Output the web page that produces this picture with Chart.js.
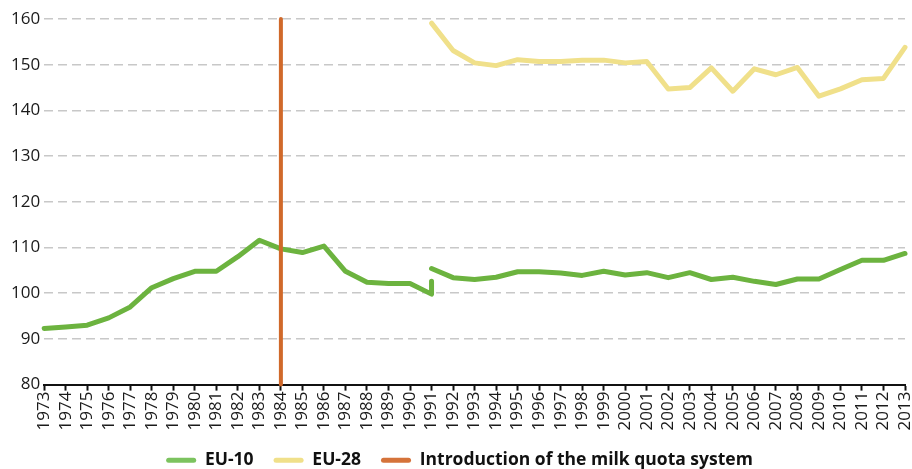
<!DOCTYPE html>
<html>
<head>
<meta charset="utf-8">
<script src="https://cdn.jsdelivr.net/npm/chart.js@4"></script>
<style>
  html, body { margin: 0; padding: 0; background: #fff; }
  #wrap { width: 912px; height: 469px; }
</style>
</head>
<body>
<div id="wrap"><canvas id="milk"></canvas></div>
<script>
// years on the x axis
const years = [];
for (let y = 1973; y <= 2013; y++) years.push(y);

// EU-10, first stretch 1973-1991 (ends with the small jump at 1991)
const eu10OldYears = [1973, 1974, 1975, 1976, 1977, 1978, 1979, 1980, 1981, 1982, 1983, 1984, 1985, 1986, 1987, 1988, 1989, 1990, 1991, 1991]
const eu10OldValues = [92.3, 92.6, 93.0, 94.6, 97.0, 101.2, 103.2, 104.8, 104.8, 108.0, 111.6, 109.7, 108.9, 110.3, 104.8, 102.4, 102.1, 102.1, 99.8, 102.6]

// EU-10, second stretch 1991-2013
const eu10NewYears = [1991, 1992, 1993, 1994, 1995, 1996, 1997, 1998, 1999, 2000, 2001, 2002, 2003, 2004, 2005, 2006, 2007, 2008, 2009, 2010, 2011, 2012, 2013]
const eu10NewValues = [105.4, 103.4, 103.0, 103.5, 104.7, 104.7, 104.4, 103.9, 104.8, 104.0, 104.5, 103.4, 104.5, 103.0, 103.5, 102.6, 101.9, 103.1, 103.1, 105.2, 107.2, 107.2, 108.7]

// EU-28
const eu28Years = eu10NewYears
const eu28Values = [159.1, 153.1, 150.4, 149.8, 151.1, 150.7, 150.7, 151.0, 151.0, 150.4, 150.7, 144.7, 145.0, 149.3, 144.2, 149.1, 147.8, 149.4, 143.1, 144.7, 146.7, 147.0, 153.8]

// milk quota introduced in 1984
const quotaYears = [1984, 1984]
const quotaValues = [80, 160]

const yTicks = [80, 90, 100, 110, 120, 130, 140, 150, 160]

function toPoints(xs, ys){
    return xs.map((x, i) => ({x: x, y: ys[i]}))
}

// join the two EU-10 stretches with a gap between them
const eu10Points = toPoints(eu10OldYears, eu10OldValues)
    .concat([{x: 1991, y: null}])
    .concat(toPoints(eu10NewYears, eu10NewValues))

const GREEN = '#6cb33f'
const YELLOW = '#f0e08a'
const ORANGE = '#d0692a'
const font = "'Open Sans', 'Noto Sans', sans-serif"

const config = {
    type: 'line',
    data: {
        datasets: [
            {
                label: 'EU-10',
                data: eu10Points,
                borderColor: GREEN,
                backgroundColor: '#7cc35f',
                borderWidth: 5,
                pointRadius: 0,
                spanGaps: false,
                borderCapStyle: 'round',
                borderJoinStyle: 'round',
                clip: false,
                order: 2
            },
            {
                label: 'EU-28',
                data: toPoints(eu28Years, eu28Values),
                borderColor: YELLOW,
                backgroundColor: YELLOW,
                borderWidth: 5,
                pointRadius: 0,
                borderCapStyle: 'round',
                borderJoinStyle: 'round',
                clip: false,
                order: 3
            },
            {
                label: 'Introduction of the milk quota system',
                data: toPoints(quotaYears, quotaValues),
                borderColor: ORANGE,
                backgroundColor: '#d5733a',
                borderWidth: 4,
                pointRadius: 0,
                borderCapStyle: 'round',
                clip: false,
                order: 1
            }
        ]
    },
    options: {
        responsive: true,
        maintainAspectRatio: false,
        animation: false,
        layout: {
            padding: {left: 7, right: 0, top: 19, bottom: -10}
        },
        plugins: {
            tooltip: {enabled: false},
            legend: {
                position: 'bottom',
                labels: {
                    boxWidth: 30,
                    boxHeight: 5,
                    useBorderRadius: true,
                    borderRadius: 2.5,
                    padding: 20,
                    color: '#111',
                    font: {family: font, size: 17.5, weight: 'bold'},
                    generateLabels(chart){
                        return chart.data.datasets.map((ds, i) => ({
                            text: ds.label,
                            fillStyle: ds.backgroundColor,
                            strokeStyle: ds.backgroundColor,
                            lineWidth: 0,
                            datasetIndex: i,
                            fontColor: '#111',
                            borderRadius: 2.5
                        }))
                    }
                }
            }
        },
        scales: {
            x: {
                type: 'linear',
                min: 1973,
                max: 2013,
                afterBuildTicks(axis){
                    axis.ticks = years.map(v => ({value: v}))
                },
                afterFit(axis){
                    // let the plot run almost to the right edge, as in the original
                    axis.paddingRight = 7
                    axis.paddingLeft = 0
                },
                ticks: {
                    minRotation: 90,
                    maxRotation: 90,
                    autoSkip: false,
                    color: '#1a1a1a',
                    padding: 1,
                    font: {family: font, size: 17},
                    callback: v => String(v)
                },
                grid: {
                    drawOnChartArea: false,
                    drawTicks: true,
                    tickLength: 6,
                    tickWidth: 2,
                    color: '#111'
                },
                border: {display: true, color: '#111', width: 2}
            },
            y: {
                min: 80,
                max: 160,
                afterBuildTicks(axis){
                    axis.ticks = yTicks.map(v => ({value: v}))
                },
                ticks: {
                    color: '#1a1a1a',
                    padding: 4,
                    font: {family: font, size: 17}
                },
                grid: {
                    drawTicks: false,
                    color: ctx => ctx.tick && ctx.tick.value === 80 ? 'rgba(0,0,0,0)' : '#c8c8c8',
                    lineWidth: 1.5
                },
                border: {display: false, dash: [9, 5]}
            }
        }
    },
    plugins: []
}

new Chart(document.getElementById('milk'), config)
</script>
</body>
</html>
